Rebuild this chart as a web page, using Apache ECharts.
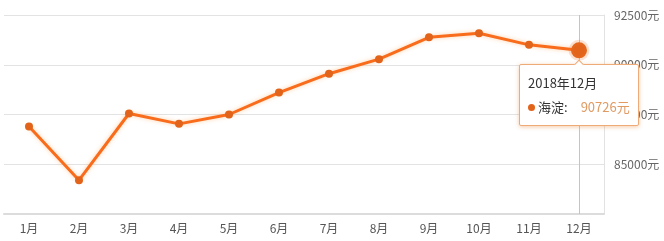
<!DOCTYPE html>
<html>
<head>
<meta charset="utf-8">
<script src="https://cdn.jsdelivr.net/npm/echarts@6/dist/echarts.min.js"></script>
<style>
html,body{margin:0;padding:0;background:#fff;}
#c{width:664px;height:241px;}
</style>
</head>
<body>
<div id="c"></div>
<script>
var categories = ['1月','2月','3月','4月','5月','6月','7月','8月','9月','10月','11月','12月'];
var values = [86900, 84200, 87550, 87030, 87500, 88600, 89550, 90280, 91380, 91580, 91000, 90726];
var seriesName = '海淀';
var year = '2018年';
var yMin = 82500, yMax = 92500, yStep = 2500;
var FONT = '"Noto Sans CJK SC", "Noto Sans", sans-serif';
var ORANGE = '#e2631a';

var chart = echarts.init(document.getElementById('c'));
chart.setOption({
  animation: false,
  grid: {left: 4, right: 60, top: 15, bottom: 27, containLabel: false},
  tooltip: {
    trigger: 'item',
    position: 'bottom',
    backgroundColor: '#fff',
    borderColor: '#eeaa77',
    borderWidth: 1,
    padding: [6, 8, 6, 8],
    extraCssText: 'box-shadow:0 1px 4px rgba(230,140,60,0.45);border-radius:2px;',
    textStyle: {fontFamily: FONT, fontSize: 13, color: '#333'},
    formatter: function (p) {
      return '<div style="line-height:24px;font-family:' + FONT.replace(/"/g, "'") + '">' +
        '<div>' + year + p.name + '</div>' +
        '<div><span style="display:inline-block;width:7px;height:7px;border-radius:50%;background:' + ORANGE + ';margin-right:3px;vertical-align:1px"></span>' +
        p.seriesName + ':<span style="color:#e09a62;margin-left:13px">' + p.value + '元</span></div></div>';
    }
  },
  xAxis: {
    type: 'category',
    data: categories,
    boundaryGap: true,
    axisLine: {lineStyle: {color: '#dcdcdc', width: 2}},
    axisTick: {alignWithLabel: true, length: 4, lineStyle: {color: '#d0d0d0'}},
    axisLabel: {color: '#555', fontSize: 12, fontFamily: FONT, margin: 8},
    splitLine: {show: false},
    axisPointer: {
      show: true, status: 'show', value: 11, snap: true, triggerTooltip: false, z: 1,
      type: 'line', lineStyle: {color: '#c4c4c4', width: 1, type: 'solid'},
      label: {show: false}
    }
  },
  yAxis: {
    type: 'value',
    position: 'right',
    min: yMin, max: yMax, interval: yStep,
    axisLine: {show: true, lineStyle: {color: '#e2e2e2'}},
    axisTick: {show: false},
    axisLabel: {color: '#666', fontSize: 12, fontFamily: FONT, margin: 10, showMinLabel: false,
      formatter: function (v) { return v + '元'; }},
    splitLine: {lineStyle: {color: '#e3e3e3'}}
  },
  series: [{
    name: seriesName,
    type: 'line',
    z: 3,
    data: values,
    symbol: 'circle',
    symbolSize: 8,
    lineStyle: {color: ORANGE, width: 3, shadowColor: 'rgba(255,150,60,0.45)', shadowBlur: 4},
    itemStyle: {color: ORANGE},
    emphasis: {
      scale: 2,
      itemStyle: {color: ORANGE, borderColor: 'rgba(240,120,40,0.22)', borderWidth: 5}
    }
  }]
});
chart.dispatchAction({type: 'highlight', seriesIndex: 0, dataIndex: 11});
chart.dispatchAction({type: 'showTip', seriesIndex: 0, dataIndex: 11});
</script>
</body>
</html>
